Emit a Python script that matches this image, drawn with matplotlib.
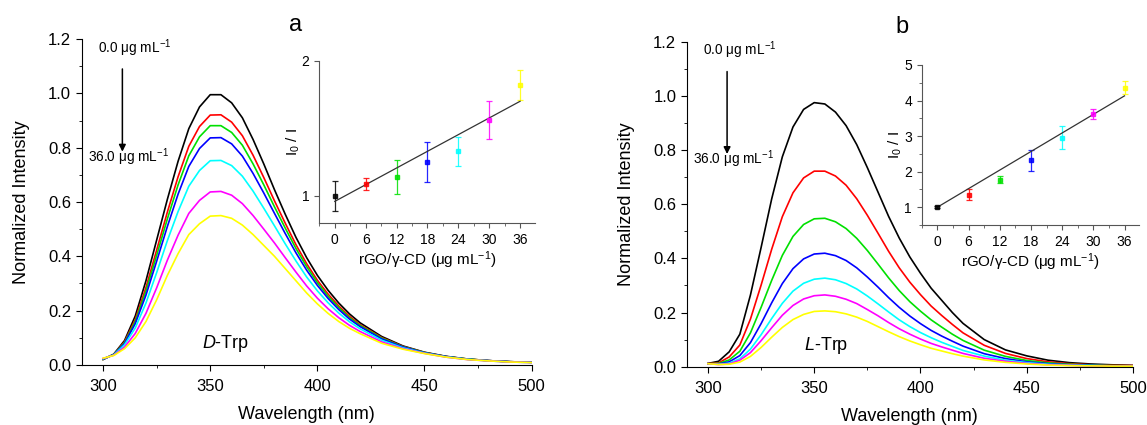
import matplotlib
matplotlib.use("Agg")
import matplotlib.pyplot as plt
from matplotlib.ticker import MultipleLocator
import numpy as np

plt.rcParams["font.family"] = ["Liberation Sans", "DejaVu Sans"]
plt.rcParams["mathtext.fontset"] = "custom"
plt.rcParams["mathtext.rm"] = "Liberation Sans"
plt.rcParams["mathtext.it"] = "Liberation Sans:italic"

# wavelength grid (nm)
wavelength = [300, 305, 310, 315, 320, 325, 330, 335, 340, 345, 350, 355, 360,
              365, 370, 375, 380, 385, 390, 395, 400, 405, 410, 415, 420,
              430, 440, 450, 460, 470, 480, 490, 500]

colors = ["black", "red", "#00e000", "blue", "cyan", "magenta", "#ffff00"]

# D-Trp spectra, 0 -> 36 ug/mL
d_black = [.020, .040, .090, .180, .310, .460, .610, .750, .870, .950, .995, .995, .965,
           .910, .830, .740, .645, .555, .470, .395, .330, .275, .228, .188, .155,
           .105, .070, .047, .032, .022, .016, .012, .010]
d_red = [.021, .039, .085, .167, .285, .423, .563, .693, .805, .878, .920, .921, .894,
         .844, .772, .690, .604, .522, .443, .373, .312, .261, .217, .179, .148,
         .101, .068, .046, .031, .022, .016, .012, .010]
d_green = [.021, .039, .082, .160, .272, .404, .538, .663, .770, .840, .881, .881, .856,
           .809, .740, .663, .582, .504, .429, .362, .303, .253, .211, .174, .145,
           .099, .067, .046, .031, .022, .016, .012, .010]
d_blue = [.022, .038, .079, .152, .257, .382, .510, .629, .731, .797, .836, .837, .814,
          .769, .705, .633, .558, .484, .413, .349, .293, .245, .204, .169, .141,
          .096, .066, .045, .031, .021, .016, .012, .010]
d_cyan = [.023, .037, .074, .136, .228, .340, .458, .565, .658, .716, .752, .753, .734,
          .695, .640, .577, .512, .446, .383, .324, .273, .229, .191, .159, .133,
          .091, .063, .044, .030, .021, .015, .011, .009]
d_magenta = [.024, .036, .066, .116, .190, .284, .386, .478, .558, .606, .637, .639, .625,
             .594, .550, .500, .449, .395, .342, .291, .246, .207, .174, .146, .123,
             .085, .060, .043, .029, .020, .015, .011, .009]
d_yellow = [.025, .035, .060, .100, .160, .240, .330, .410, .480, .520, .548, .550, .540,
            .515, .480, .440, .400, .355, .310, .265, .225, .190, .160, .135, .115,
            .080, .058, .042, .029, .020, .015, .011, .009]

# L-Trp spectra, 0 -> 36 ug/mL
l_black = [.012, .020, .055, .120, .265, .440, .620, .775, .885, .950, .975, .970, .940,
           .890, .820, .735, .645, .555, .475, .405, .345, .290, .245, .200, .160,
           .100, .062, .040, .024, .015, .010, .007, .005]
l_red = [.012, .014, .036, .080, .176, .301, .434, .554, .642, .697, .722, .722, .704,
         .670, .620, .559, .493, .426, .365, .312, .266, .224, .189, .156, .125,
         .079, .049, .030, .018, .011, .007, .005, .004]
l_green = [.011, .012, .025, .057, .125, .219, .319, .411, .481, .525, .546, .548, .535,
           .510, .474, .429, .379, .328, .281, .240, .205, .173, .146, .120, .097,
           .061, .038, .023, .014, .009, .006, .004, .003]
l_blue = [.011, .010, .018, .041, .089, .159, .236, .307, .362, .398, .416, .419, .410,
          .392, .365, .331, .294, .255, .219, .187, .159, .134, .113, .094, .076,
          .048, .030, .018, .011, .007, .005, .003, .003]
l_cyan = [.011, .009, .013, .029, .065, .118, .178, .234, .279, .308, .323, .327, .321,
          .307, .287, .261, .232, .202, .173, .148, .126, .107, .090, .075, .060,
          .039, .024, .015, .009, .006, .004, .003, .002]
l_magenta = [.011, .008, .010, .024, .052, .096, .144, .190, .226, .250, .262, .265, .260,
             .249, .233, .211, .188, .163, .140, .120, .102, .086, .073, .061, .049,
             .031, .020, .012, .007, .005, .003, .002, .002]
l_yellow = [.011, .008, .009, .017, .038, .071, .109, .145, .174, .193, .204, .206, .203,
            .195, .183, .167, .148, .129, .111, .095, .081, .068, .058, .048, .039,
            .025, .016, .010, .006, .004, .003, .002, .002]

# Stern-Volmer insets
conc = [0, 6, 12, 18, 24, 30, 36]
d_ratio = [1.00, 1.09, 1.14, 1.25, 1.33, 1.56, 1.82]
d_err = [0.11, 0.045, 0.125, 0.15, 0.11, 0.14, 0.11]
d_fit = [0.96, 0.0206]   # intercept, slope
l_ratio = [1.00, 1.35, 1.77, 2.32, 2.96, 3.61, 4.36]
l_err = [0.03, 0.16, 0.10, 0.30, 0.32, 0.14, 0.19]
l_fit = [1.00, 0.087]

conc_label = "0.0 μg mL$^{-1}$"
conc_label_end = "36.0 μg mL$^{-1}$"


def draw_spectra(ax, curves, name, note_pos):
    for y, c in zip(curves, colors):
        ax.plot(wavelength, y, color=c, lw=1.2)
    ax.set_xlim(290, 500)
    ax.set_ylim(0, 1.2)
    ax.xaxis.set_major_locator(MultipleLocator(50))
    ax.xaxis.set_minor_locator(MultipleLocator(25))
    ax.yaxis.set_major_locator(MultipleLocator(0.2))
    ax.yaxis.set_minor_locator(MultipleLocator(0.1))
    ax.yaxis.set_major_formatter(plt.FormatStrFormatter("%.1f"))
    for s in ["top", "right"]:
        ax.spines[s].set_visible(False)
    ax.tick_params(which="both", direction="out", labelsize=12)
    ax.tick_params(axis="x", pad=6)
    ax.tick_params(which="major", length=4)
    ax.tick_params(which="minor", length=2.5)
    ax.set_xlabel("Wavelength (nm)", fontsize=13, labelpad=9)
    ax.set_ylabel("Normalized Intensity", fontsize=13, labelpad=13)
    ax.text(297.8, 1.167, conc_label, fontsize=9.8, va="center")
    ax.text(292.8, 0.766, conc_label_end, fontsize=9.8, va="center")
    ax.annotate("", xy=(309, 0.775), xytext=(309, 1.1),
                arrowprops=dict(arrowstyle="-|>", color="black", lw=1.1,
                                mutation_scale=10))
    ax.text(note_pos, 0.08, name, fontsize=13, va="center")


def draw_inset(ax, ratio, err, fit, ylim, yticks):
    for x, y, e, c in zip(conc, ratio, err, colors):
        ax.errorbar(x, y, yerr=e, fmt="s", color=c, ecolor=c, ms=3.5,
                    elinewidth=0.9, capsize=2, capthick=0.9, alpha=0.85)
    xs = np.array([conc[0], conc[-1]])
    ax.plot(xs, fit[0] + fit[1] * xs, color="#333333", lw=0.9)
    ax.set_xlim(-3, 38.8)
    ax.set_ylim(*ylim)
    ax.set_xticks(conc)
    ax.xaxis.set_minor_locator(MultipleLocator(3))
    ax.set_yticks(yticks)
    for s in ["top", "right"]:
        ax.spines[s].set_visible(False)
    for s in ["left", "bottom"]:
        ax.spines[s].set_color("#555555")
    ax.tick_params(which="both", direction="out", labelsize=10, color="#555555")
    ax.tick_params(which="major", length=3.5)
    ax.tick_params(which="minor", length=2)
    ax.set_xlabel("rGO/γ-CD (μg mL$^{-1}$)", fontsize=11, labelpad=2)
    ax.set_ylabel("I$_0$ / I", fontsize=11, labelpad=0)
    ax.patch.set_alpha(0)


fig = plt.figure(figsize=(11.47, 4.25), dpi=100)

ax1 = fig.add_axes([0.0712, 0.1412, 0.3923, 0.767])
draw_spectra(ax1, [d_black, d_red, d_green, d_blue, d_cyan, d_magenta, d_yellow],
             "$\\it{D}$-Trp", 346)
ax2 = fig.add_axes([0.5987, 0.1372, 0.3891, 0.7647])
draw_spectra(ax2, [l_black, l_red, l_green, l_blue, l_cyan, l_magenta, l_yellow],
             "$\\it{L}$-Trp", 345)

ins1 = fig.add_axes([0.2784, 0.4753, 0.1876, 0.3812])
draw_inset(ins1, d_ratio, d_err, d_fit, (0.8, 2.0), [1, 2])
ins2 = fig.add_axes([0.8036, 0.4706, 0.1895, 0.3765])
draw_inset(ins2, l_ratio, l_err, l_fit, (0.5, 5.0), [1, 2, 3, 4, 5])
ins2.yaxis.set_minor_locator(MultipleLocator(0.5))

fig.text(296 / 1147, 1 - 25 / 425, "a", fontsize=17, ha="center", va="center")
fig.text(902 / 1147, 1 - 27 / 425, "b", fontsize=17, ha="center", va="center")

fig.savefig("out.png", dpi=100)
